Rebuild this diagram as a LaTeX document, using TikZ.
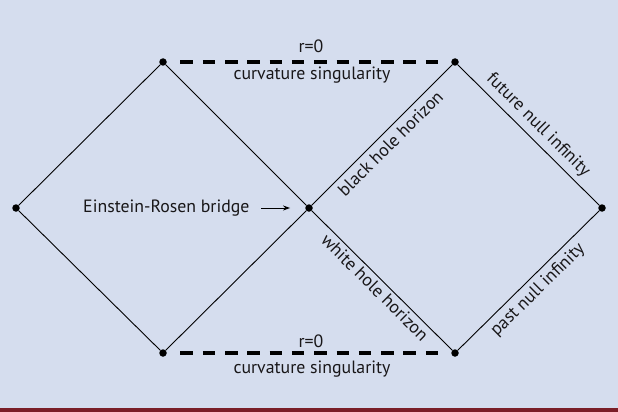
\documentclass[tikz,border=0pt]{standalone}
\usepackage{fontspec}
\setmainfont{PT Sans}
\usetikzlibrary{arrows.meta}
\definecolor{bgblue}{RGB}{213,221,238}
\definecolor{stripred}{RGB}{122,30,40}
\definecolor{inkgray}{RGB}{25,23,25}
\begin{document}
\begin{tikzpicture}[x=1pt,y=-1pt,
  dot/.style={circle,fill=black,inner sep=0pt,minimum size=7.5pt},
  edge/.style={draw=black,line width=0.9pt},
  sing/.style={draw=black,line width=4pt,dash pattern=on 12.5pt off 9.8pt,shorten <=13.5pt,shorten >=13.5pt},
  lbl/.style={text=inkgray,font=\fontsize{17.8}{20}\selectfont},
  slopelbl/.style={lbl,sloped,inner sep=2pt}]
\useasboundingbox (0,0) rectangle (618,412);
\fill[bgblue] (0,0) rectangle (618,412);
\fill[stripred] (0,408) rectangle (618,412);
\node[dot] (L) at (16,208) {};
\node[dot] (TL) at (163,62) {};
\node[dot] (BL) at (163,353) {};
\node[dot] (C) at (309,208) {};
\node[dot] (TR) at (455,62) {};
\node[dot] (BR) at (455,353) {};
\node[dot] (R) at (602,208) {};
\draw[edge] (L) -- (TL);
\draw[edge] (L) -- (BL);
\draw[edge] (TL) -- (C);
\draw[edge] (BL) -- (C);
\draw[edge] (C) -- node[slopelbl,below=3pt] {black hole horizon} (TR);
\draw[edge] (C) -- node[slopelbl,below=1pt] {white hole horizon} (BR);
\draw[edge] (TR) -- node[slopelbl,above=3pt] {future null infinity} (R);
\draw[edge] (BR) -- node[slopelbl,below=3pt] {past null infinity} (R);
\draw[sing] (TL) -- (TR);
\draw[sing] (BL) -- (BR);
\node[lbl] (rt) at (311,46) {r=0};
\node[lbl] (cst) at (312,75) {curvature singularity};
\node[lbl] (rb) at (311,341) {r=0};
\node[lbl] (csb) at (312,369) {curvature singularity};
\node[lbl,anchor=east] (erb) at (253,208) {Einstein-Rosen bridge};
\draw[-{Stealth[length=7pt,width=5pt]},line width=0.9pt,shorten >=15pt] ([xshift=8pt]erb.east) -- (C);
\end{tikzpicture}
\end{document}
